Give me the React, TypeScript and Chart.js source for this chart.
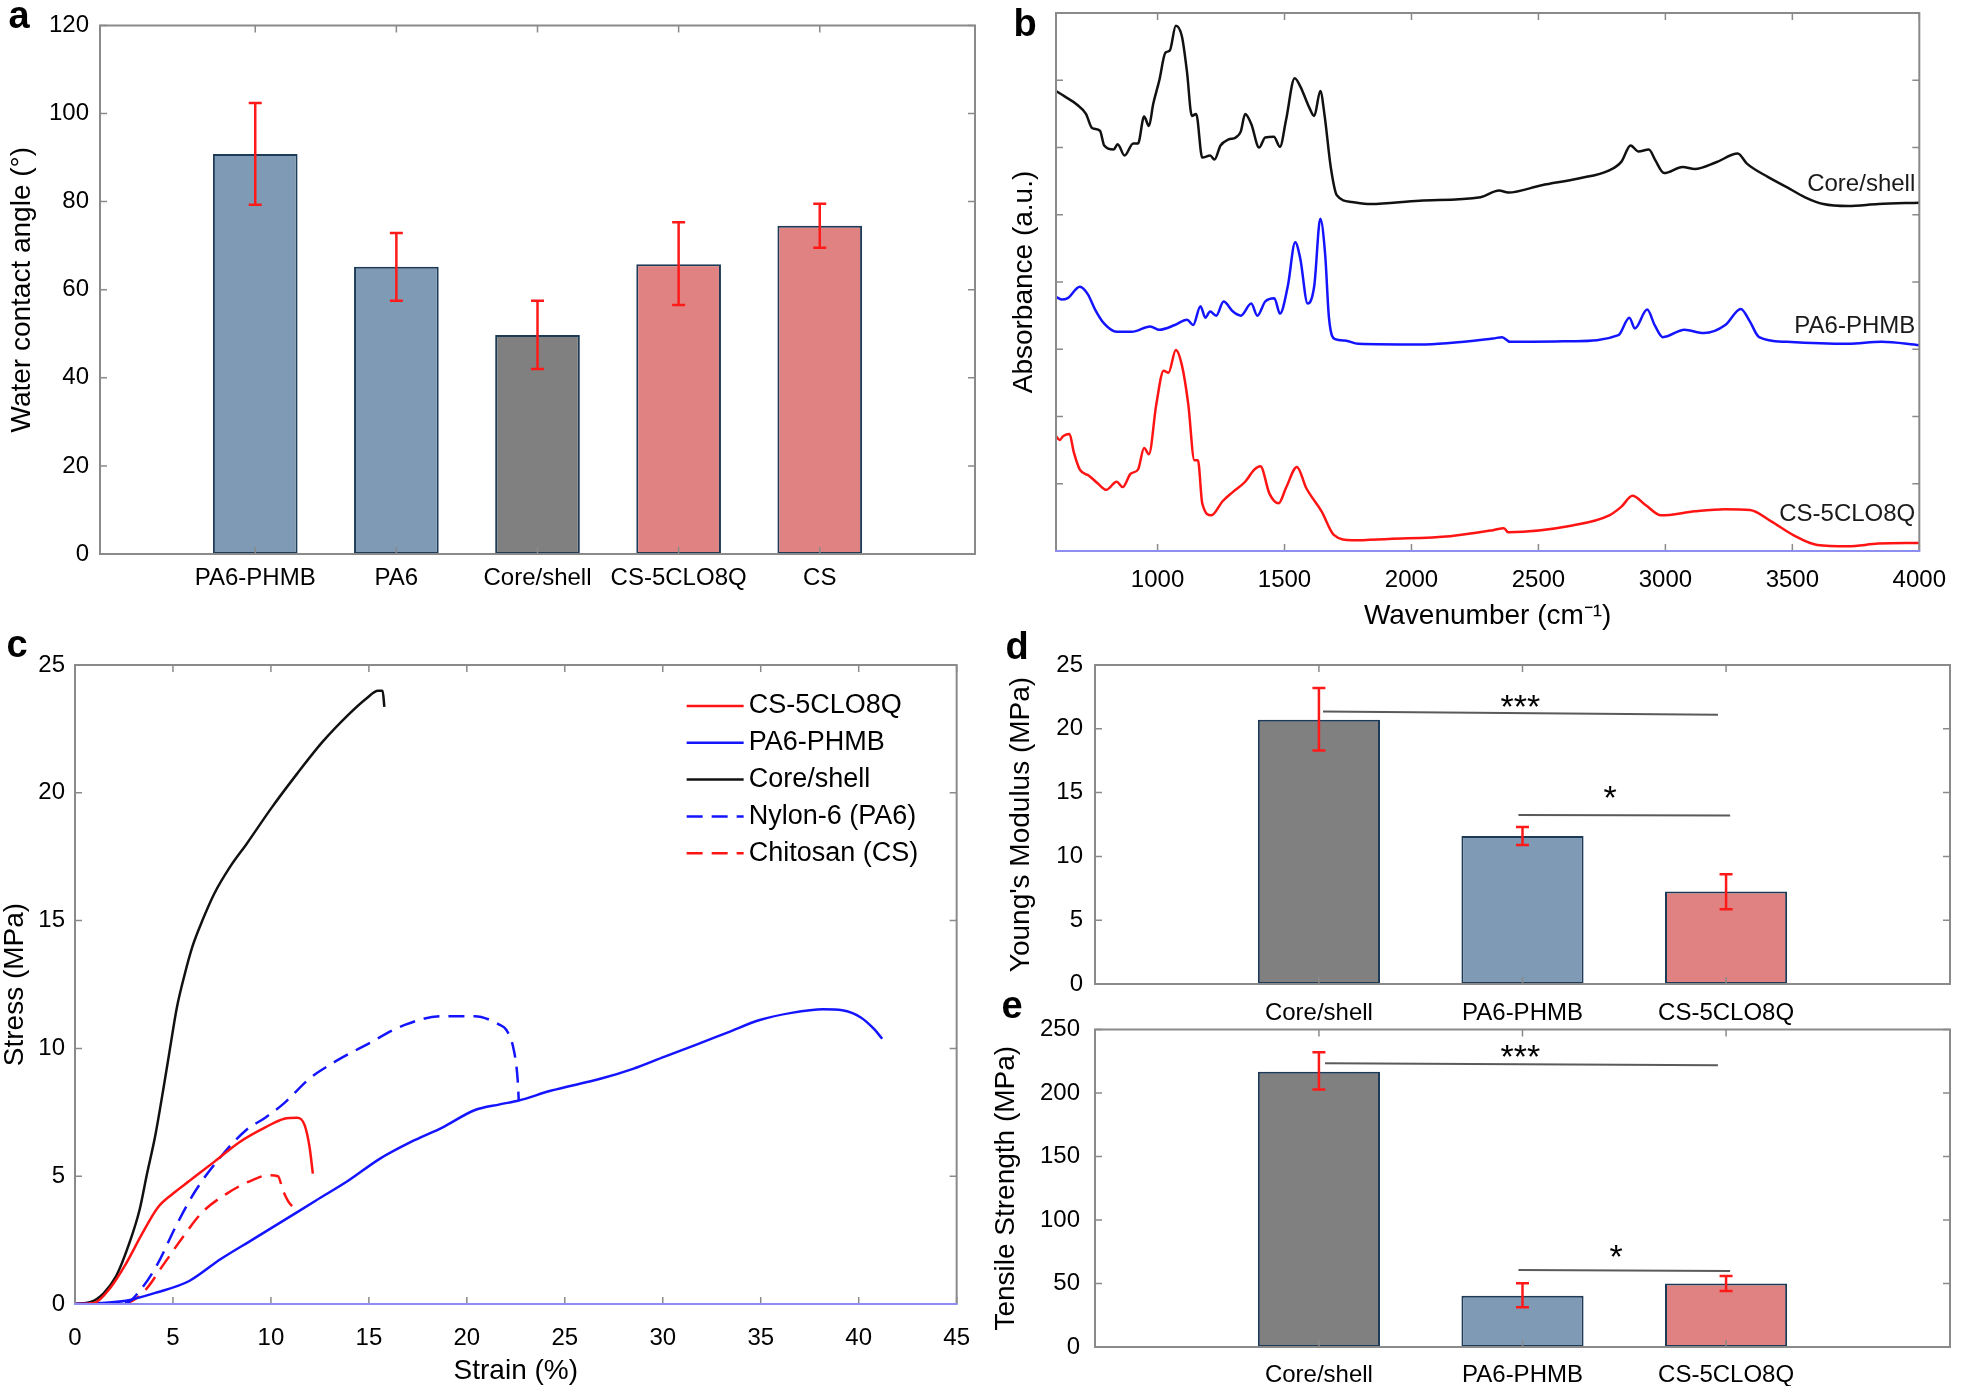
import React, { useEffect, useRef } from 'react';
import { Chart, registerables } from 'chart.js';

Chart.register(...registerables);

const FONT = '"Liberation Sans", Arial, Helvetica, sans-serif';
Chart.defaults.font.family = FONT;
Chart.defaults.color = '#000';

const AXIS_GRAY = '#8a8a8a';
const LAVENDER = '#8e8ef2';
const BAR_BLUE = '#7e9ab5';
const BAR_GRAY = '#808080';
const BAR_PINK = '#e08282';
const BAR_EDGE = '#1d3a57';

// ---------- Panel a: water contact angle ----------
const contactCategories = ['PA6-PHMB', 'PA6', 'Core/shell', 'CS-5CLO8Q', 'CS'];
const contactAngle = [90.8, 65.2, 49.7, 65.8, 74.5];
const contactErrLow = [79.3, 57.5, 42.0, 56.5, 69.5];
const contactErrHigh = [102.4, 72.9, 57.5, 75.3, 79.5];
const contactColors = [BAR_BLUE, BAR_BLUE, BAR_GRAY, BAR_PINK, BAR_PINK];
const contactYTicks = [0, 20, 40, 60, 80, 100, 120];

// ---------- Panel b: FTIR spectra ----------
const ftirXTicks = [1000, 1500, 2000, 2500, 3000, 3500, 4000];
const ftirYTicks = [0, 1, 2, 3, 4, 5, 6, 7, 8];
const coreShellWavenumber = [600, 634, 682, 718, 742, 773, 790, 827, 843, 870, 904, 923, 947, 966, 983, 1007, 1031, 1048, 1072, 1096, 1116, 1135, 1152, 1176, 1207, 1224, 1248, 1280, 1308, 1328, 1345, 1369, 1400, 1424, 1458, 1482, 1506, 1540, 1562, 1598, 1617, 1641, 1658, 1682, 1706, 1766, 1839, 2032, 2272, 2345, 2381, 2513, 2658, 2779, 2827, 2863, 2894, 2935, 2959, 2995, 3068, 3116, 3200, 3285, 3321, 3405, 3478, 3550, 3622, 3719, 3839, 4000];
const coreShellAbsorbance = [6.84, 6.76, 6.64, 6.5, 6.29, 6.25, 6.03, 5.97, 6.05, 5.88, 6.06, 6.06, 6.46, 6.32, 6.65, 7.0, 7.41, 7.44, 7.81, 7.65, 7.12, 6.47, 6.5, 5.85, 5.88, 5.82, 6.03, 6.12, 6.15, 6.24, 6.5, 6.35, 6.0, 6.15, 6.16, 6.01, 6.41, 7.03, 6.91, 6.59, 6.47, 6.84, 6.47, 5.71, 5.29, 5.19, 5.16, 5.21, 5.26, 5.36, 5.33, 5.44, 5.54, 5.66, 5.79, 6.03, 5.94, 5.97, 5.82, 5.62, 5.71, 5.68, 5.78, 5.91, 5.76, 5.56, 5.41, 5.26, 5.16, 5.13, 5.16, 5.18];
const pa6PhmbWavenumber = [600, 622, 646, 694, 725, 754, 790, 839, 899, 971, 1007, 1068, 1116, 1140, 1169, 1188, 1207, 1231, 1260, 1297, 1328, 1369, 1393, 1424, 1460, 1482, 1513, 1542, 1562, 1591, 1617, 1641, 1660, 1675, 1699, 1737, 1790, 2032, 2321, 2357, 2388, 2634, 2815, 2858, 2880, 2928, 2959, 2990, 3075, 3152, 3236, 3297, 3333, 3369, 3478, 3719, 3851, 4000];
const pa6PhmbAbsorbance = [3.78, 3.74, 3.76, 3.93, 3.82, 3.59, 3.38, 3.26, 3.26, 3.34, 3.29, 3.36, 3.44, 3.36, 3.64, 3.47, 3.56, 3.5, 3.71, 3.56, 3.5, 3.68, 3.5, 3.71, 3.76, 3.53, 3.94, 4.59, 4.35, 3.68, 3.94, 4.94, 4.41, 3.47, 3.15, 3.13, 3.08, 3.07, 3.16, 3.18, 3.11, 3.12, 3.21, 3.47, 3.31, 3.59, 3.35, 3.18, 3.29, 3.24, 3.36, 3.6, 3.41, 3.18, 3.11, 3.08, 3.11, 3.06];
const csLo8qWavenumber = [600, 614, 629, 653, 670, 694, 730, 766, 798, 839, 863, 894, 923, 947, 966, 995, 1024, 1043, 1072, 1096, 1121, 1145, 1159, 1176, 1212, 1256, 1297, 1345, 1381, 1405, 1441, 1477, 1506, 1549, 1585, 1646, 1694, 1766, 1911, 2152, 2321, 2364, 2381, 2634, 2779, 2827, 2870, 2923, 2983, 3116, 3236, 3333, 3417, 3502, 3598, 3719, 3839, 4000];
const csLo8qAbsorbance = [1.71, 1.65, 1.71, 1.74, 1.47, 1.21, 1.12, 1.0, 0.91, 1.03, 0.95, 1.15, 1.21, 1.53, 1.44, 2.18, 2.68, 2.65, 2.99, 2.76, 2.18, 1.35, 1.35, 0.71, 0.53, 0.74, 0.88, 1.03, 1.21, 1.26, 0.85, 0.71, 0.94, 1.25, 0.94, 0.59, 0.24, 0.16, 0.18, 0.22, 0.31, 0.34, 0.28, 0.38, 0.53, 0.66, 0.82, 0.68, 0.53, 0.59, 0.62, 0.61, 0.44, 0.24, 0.09, 0.07, 0.11, 0.12];
const spectrumLabels = ['Core/shell', 'PA6-PHMB', 'CS-5CLO8Q'];
const spectrumLabelX = [3984, 3984, 3984];
const spectrumLabelY = [5.45, 3.34, 0.54];

// ---------- Panel c: stress-strain ----------
const strainXTicks = [0, 5, 10, 15, 20, 25, 30, 35, 40, 45];
const stressYTicks = [0, 5, 10, 15, 20, 25];
const csLo8qStrain = [0, 0.97, 1.78, 2.59, 3.4, 4.21, 5.02, 5.83, 7.12, 8.41, 9.71, 10.68, 11.33, 11.72, 11.97, 12.14];
const csLo8qStress = [0, 0.04, 0.61, 1.56, 2.71, 3.76, 4.33, 4.81, 5.57, 6.34, 6.91, 7.25, 7.29, 7.0, 6.15, 5.1];
const pa6PhmbStrain = [0, 2.59, 4.21, 5.83, 7.44, 9.06, 10.68, 12.3, 13.92, 15.53, 17.15, 18.77, 20.39, 21.68, 22.65, 24.27, 26.86, 28.48, 30.1, 31.72, 33.33, 34.95, 36.57, 38.19, 39.16, 40.13, 40.78, 41.2];
const pa6PhmbStress = [0, 0.13, 0.46, 0.9, 1.76, 2.52, 3.28, 4.05, 4.81, 5.67, 6.34, 6.91, 7.58, 7.81, 7.96, 8.34, 8.82, 9.2, 9.68, 10.15, 10.63, 11.11, 11.39, 11.53, 11.49, 11.2, 10.76, 10.38];
const coreShellStrain = [0, 0.8, 1.46, 2.1, 2.75, 3.3, 3.65, 4.1, 4.55, 4.85, 5.2, 5.6, 6.0, 6.5, 7.12, 7.93, 8.74, 10.03, 11.33, 12.62, 13.92, 14.89, 15.47, 15.7, 15.79];
const coreShellStress = [0, 0.08, 0.42, 1.09, 2.33, 3.7, 5.0, 6.6, 8.6, 10.0, 11.6, 12.9, 14.0, 15.0, 16.07, 17.12, 17.98, 19.41, 20.74, 21.98, 23.03, 23.7, 23.99, 23.99, 23.36];
const nylonStrain = [0, 2.59, 3.4, 4.21, 5.18, 6.15, 7.44, 8.74, 9.71, 10.68, 11.97, 13.27, 14.89, 16.83, 18.77, 20.39, 21.68, 22.01, 22.39, 22.59, 22.65];
const nylonStress = [0, 0.04, 0.61, 1.56, 3.09, 4.43, 5.76, 6.81, 7.29, 7.86, 8.82, 9.48, 10.15, 10.92, 11.26, 11.26, 10.92, 10.73, 9.96, 8.82, 7.96];
const chitosanStrain = [0, 2.59, 3.56, 4.53, 5.5, 6.47, 7.77, 9.06, 9.87, 10.36, 10.62, 10.94, 11.49];
const chitosanStress = [0, 0.04, 0.52, 1.56, 2.61, 3.57, 4.33, 4.85, 5.04, 5.0, 4.43, 3.95, 3.66];

// ---------- Panels d & e ----------
const mechCategories = ['Core/shell', 'PA6-PHMB', 'CS-5CLO8Q'];
const mechColors = [BAR_GRAY, BAR_BLUE, BAR_PINK];
const youngModulus = [20.7, 11.6, 7.25];
const youngErrLow = [18.3, 10.9, 5.85];
const youngErrHigh = [23.2, 12.3, 8.6];
const youngYTicks = [0, 5, 10, 15, 20, 25];
const youngSigX1 = [1.02, 1.98];
const youngSigY1 = [21.35, 13.25];
const youngSigX2 = [2.96, 3.02];
const youngSigY2 = [21.1, 13.2];
const youngSigText = ['***', '*'];
const youngSigTextX = [1.99, 2.43];
const youngSigTextY = [22.4, 15.2];
const tensileStrength = [216.7, 40.3, 49.9];
const tensileErrLow = [202.6, 31.3, 44.0];
const tensileErrHigh = [232.0, 50.1, 55.8];
const tensileYTicks = [0, 50, 100, 150, 200, 250];
const tensileSigX1 = [1.03, 1.98];
const tensileSigY1 = [223.4, 60.6];
const tensileSigX2 = [2.96, 3.02];
const tensileSigY2 = [221.8, 59.9];
const tensileSigText = ['***', '*'];
const tensileSigTextX = [1.99, 2.46];
const tensileSigTextY = [235, 77.5];

// ---------- helpers ----------
const TICK = 7;

const matlabAxes = (bottomColor: string = AXIS_GRAY) => ({
  id: 'matlabAxes',
  afterDatasetsDraw(chart: any) {
    const { ctx, chartArea } = chart;
    const { left, right, top, bottom } = chartArea;
    const xs = chart.scales.x;
    const ys = chart.scales.y;
    ctx.save();
    ctx.strokeStyle = AXIS_GRAY;
    ctx.lineWidth = 1.5;
    ctx.beginPath();
    xs.ticks.forEach((t: any) => {
      const p = xs.getPixelForValue(t.value);
      ctx.moveTo(p, bottom);
      ctx.lineTo(p, bottom - TICK);
      ctx.moveTo(p, top);
      ctx.lineTo(p, top + TICK);
    });
    ys.ticks.forEach((t: any) => {
      const p = ys.getPixelForValue(t.value);
      ctx.moveTo(left, p);
      ctx.lineTo(left + TICK, p);
      ctx.moveTo(right, p);
      ctx.lineTo(right - TICK, p);
    });
    ctx.stroke();
    ctx.lineWidth = 2;
    ctx.beginPath();
    ctx.moveTo(left, bottom);
    ctx.lineTo(left, top);
    ctx.lineTo(right, top);
    ctx.lineTo(right, bottom);
    ctx.stroke();
    ctx.strokeStyle = bottomColor;
    ctx.beginPath();
    ctx.moveTo(left - 1, bottom);
    ctx.lineTo(right + 1, bottom);
    ctx.stroke();
    ctx.restore();
  },
});

const errorBars = (low: number[], high: number[]) => ({
  id: 'errorBars',
  afterDatasetsDraw(chart: any) {
    const { ctx } = chart;
    const ys = chart.scales.y;
    const meta = chart.getDatasetMeta(0);
    ctx.save();
    ctx.strokeStyle = '#ff1a1a';
    ctx.lineWidth = 2.5;
    meta.data.forEach((bar: any, i: number) => {
      const x = bar.x;
      const yl = ys.getPixelForValue(low[i]);
      const yh = ys.getPixelForValue(high[i]);
      ctx.beginPath();
      ctx.moveTo(x, yl);
      ctx.lineTo(x, yh);
      ctx.moveTo(x - 6.5, yl);
      ctx.lineTo(x + 6.5, yl);
      ctx.moveTo(x - 6.5, yh);
      ctx.lineTo(x + 6.5, yh);
      ctx.stroke();
    });
    ctx.restore();
  },
});

const significance = (x1: number[], y1: number[], x2: number[], y2: number[], text: string[], tx: number[], ty: number[]) => ({
  id: 'significance',
  afterDatasetsDraw(chart: any) {
    const { ctx } = chart;
    const xs = chart.scales.x;
    const ys = chart.scales.y;
    ctx.save();
    ctx.strokeStyle = '#5a5a5a';
    ctx.lineWidth = 2;
    for (let i = 0; i < x1.length; i++) {
      ctx.beginPath();
      ctx.moveTo(xs.getPixelForValue(x1[i]), ys.getPixelForValue(y1[i]));
      ctx.lineTo(xs.getPixelForValue(x2[i]), ys.getPixelForValue(y2[i]));
      ctx.stroke();
      const size = 34;
      ctx.font = `${size}px ${FONT}`;
      ctx.fillStyle = '#000';
      ctx.textAlign = 'center';
      ctx.textBaseline = 'alphabetic';
      ctx.fillText(text[i], xs.getPixelForValue(tx[i]), ys.getPixelForValue(ty[i]) + 0.57 * size);
    }
    ctx.restore();
  },
});

const spectrumText = {
  id: 'spectrumText',
  afterDatasetsDraw(chart: any) {
    const { ctx } = chart;
    const xs = chart.scales.x;
    const ys = chart.scales.y;
    ctx.save();
    ctx.font = `24px ${FONT}`;
    ctx.fillStyle = '#1a1a1a';
    ctx.textAlign = 'right';
    ctx.textBaseline = 'middle';
    spectrumLabels.forEach((s, i) => {
      ctx.fillText(s, xs.getPixelForValue(spectrumLabelX[i]), ys.getPixelForValue(spectrumLabelY[i]));
    });
    ctx.restore();
  },
};

const strainLegend = {
  id: 'strainLegend',
  afterDraw(chart: any) {
    const { ctx, chartArea } = chart;
    const x0 = chartArea.right - 270;
    const x1 = chartArea.right - 213;
    const tx = chartArea.right - 208;
    ctx.save();
    ctx.font = `27px ${FONT}`;
    ctx.textAlign = 'left';
    ctx.textBaseline = 'middle';
    chart.data.datasets.forEach((ds: any, i: number) => {
      const y = chartArea.top + 41 + i * 36.8;
      ctx.strokeStyle = ds.borderColor;
      ctx.lineWidth = 2.5;
      ctx.setLineDash(ds.borderDash || []);
      ctx.beginPath();
      ctx.moveTo(x0, y);
      ctx.lineTo(x1, y);
      ctx.stroke();
      ctx.setLineDash([]);
      ctx.fillStyle = '#000';
      ctx.fillText(ds.label, tx, y);
    });
    ctx.restore();
  },
};

type AxisOpts = {
  min: number;
  max: number;
  ticks: number[];
  fit: 'width' | 'height';
  size: number;
  padding: number;
  showLabels?: boolean;
  label?: (v: number) => string;
  title?: string;
  titlePad?: number;
};

function makeAxis(o: AxisOpts) {
  return {
    type: 'linear',
    min: o.min,
    max: o.max,
    offset: false,
    grid: { display: false, offset: false, drawTicks: false, tickLength: 0 },
    border: { display: false },
    afterBuildTicks: (s: any) => {
      s.ticks = o.ticks.map((v) => ({ value: v }));
    },
    afterFit: (s: any) => {
      if (o.fit === 'width') s.width = o.size;
      else s.height = o.size;
    },
    ticks: {
      display: o.showLabels !== false,
      autoSkip: false,
      maxRotation: 0,
      minRotation: 0,
      padding: o.padding,
      color: '#000',
      font: { family: FONT, size: 24 },
      callback: o.label ? (v: any) => o.label!(Number(v)) : (v: any) => String(v),
    },
    title: o.title
      ? {
          display: true,
          text: o.title,
          color: '#000',
          font: { family: FONT, size: 28, lineHeight: 1 },
          padding: { top: o.titlePad || 0, bottom: o.titlePad || 0 },
        }
      : { display: false },
  };
}

function baseOptions(padTop: number, padRight: number) {
  return {
    responsive: false,
    animation: false,
    devicePixelRatio: 1,
    events: [],
    layout: { autoPadding: false, padding: { top: padTop, right: padRight, left: 0, bottom: 0 } },
    plugins: { legend: { display: false }, tooltip: { enabled: false } },
  };
}

function barDataset(values: number[], colors: string[]) {
  return {
    data: values.map((v, i) => ({ x: i + 1, y: v })),
    backgroundColor: colors,
    borderColor: BAR_EDGE,
    borderWidth: 2,
    borderSkipped: false,
    barPercentage: 0.6,
    categoryPercentage: 1,
  };
}

function lineDataset(label: string, xs: number[], ys: number[], color: string, dash: number[] = []) {
  return {
    label,
    data: xs.map((x, i) => ({ x, y: ys[i] })),
    borderColor: color,
    backgroundColor: color,
    borderWidth: 2.5,
    borderDash: dash,
    pointRadius: 0,
    cubicInterpolationMode: 'monotone',
    fill: false,
  };
}

// ---------- chart configs ----------
const configA = () => ({
  type: 'bar',
  data: { datasets: [barDataset(contactAngle, contactColors)] },
  options: {
    ...baseOptions(13, 15),
    scales: {
      x: makeAxis({ min: -0.1, max: 6.1, ticks: [1, 2, 3, 4, 5], fit: 'height', size: 66, padding: 10, label: (v) => contactCategories[v - 1] || '' }),
      y: makeAxis({ min: 0, max: 120, ticks: contactYTicks, fit: 'width', size: 100, padding: 11, title: 'Water contact angle (°)', titlePad: 8 }),
    },
  },
  plugins: [errorBars(contactErrLow, contactErrHigh), matlabAxes()],
});

const configB = () => ({
  type: 'line',
  data: {
    datasets: [
      lineDataset('Core/shell', coreShellWavenumber, coreShellAbsorbance, '#111111'),
      lineDataset('PA6-PHMB', pa6PhmbWavenumber, pa6PhmbAbsorbance, '#1414ff'),
      lineDataset('CS-5CLO8Q', csLo8qWavenumber, csLo8qAbsorbance, '#ff1414'),
    ],
  },
  options: {
    ...baseOptions(13, 31),
    scales: {
      x: makeAxis({ min: 600, max: 4000, ticks: ftirXTicks, fit: 'height', size: 89, padding: 15, title: 'Wavenumber (cm⁻¹)', titlePad: 10 }),
      y: makeAxis({ min: 0, max: 8, ticks: ftirYTicks, fit: 'width', size: 66, padding: 10, showLabels: false, title: 'Absorbance (a.u.)', titlePad: 20 }),
    },
  },
  plugins: [spectrumText, matlabAxes(LAVENDER)],
});

const configC = () => ({
  type: 'line',
  data: {
    datasets: [
      lineDataset('CS-5CLO8Q', csLo8qStrain, csLo8qStress, '#ff1414'),
      lineDataset('PA6-PHMB', pa6PhmbStrain, pa6PhmbStress, '#1414ff'),
      lineDataset('Core/shell', coreShellStrain, coreShellStress, '#111111'),
      lineDataset('Nylon-6 (PA6)', nylonStrain, nylonStress, '#1414ff', [16, 9]),
      lineDataset('Chitosan (CS)', chitosanStrain, chitosanStress, '#ff1414', [16, 9]),
    ],
  },
  options: {
    ...baseOptions(45, 33),
    scales: {
      x: makeAxis({ min: 0, max: 45, ticks: strainXTicks, fit: 'height', size: 82, padding: 20, title: 'Strain (%)', titlePad: 1 }),
      y: makeAxis({ min: 0, max: 25, ticks: stressYTicks, fit: 'width', size: 75, padding: 10, title: 'Stress (MPa)', titlePad: 1 }),
    },
  },
  plugins: [matlabAxes(LAVENDER), strainLegend],
});

const configD = () => ({
  type: 'bar',
  data: { datasets: [barDataset(youngModulus, mechColors)] },
  options: {
    ...baseOptions(45, 11),
    scales: {
      x: makeAxis({ min: -0.1, max: 4.1, ticks: [1, 2, 3], fit: 'height', size: 56, padding: 15, label: (v) => mechCategories[v - 1] || '' }),
      y: makeAxis({ min: 0, max: 25, ticks: youngYTicks, fit: 'width', size: 105, padding: 12, title: "Young's Modulus (MPa)", titlePad: 17 }),
    },
  },
  plugins: [
    errorBars(youngErrLow, youngErrHigh),
    significance(youngSigX1, youngSigY1, youngSigX2, youngSigY2, youngSigText, youngSigTextX, youngSigTextY),
    matlabAxes(),
  ],
});

const configE = () => ({
  type: 'bar',
  data: { datasets: [barDataset(tensileStrength, mechColors)] },
  options: {
    ...baseOptions(28, 11),
    scales: {
      x: makeAxis({ min: -0.1, max: 4.1, ticks: [1, 2, 3], fit: 'height', size: 39, padding: 14, label: (v) => mechCategories[v - 1] || '' }),
      y: makeAxis({ min: 0, max: 250, ticks: tensileYTicks, fit: 'width', size: 105, padding: 15, title: 'Tensile Strength (MPa)', titlePad: 2 }),
    },
  },
  plugins: [
    errorBars(tensileErrLow, tensileErrHigh),
    significance(tensileSigX1, tensileSigY1, tensileSigX2, tensileSigY2, tensileSigText, tensileSigTextX, tensileSigTextY),
    matlabAxes(),
  ],
});

type Box = { x: number; y: number; w: number; h: number };

function ChartPanel({ box, build }: { box: Box; build: () => any }) {
  const ref = useRef<HTMLCanvasElement | null>(null);
  useEffect(() => {
    if (!ref.current) return;
    const chart = new Chart(ref.current, build() as any);
    return () => chart.destroy();
  }, []);
  return (
    <canvas
      ref={ref}
      width={box.w}
      height={box.h}
      style={{ position: 'absolute', left: box.x, top: box.y, width: box.w, height: box.h }}
    />
  );
}

const panelLetters = [
  { t: 'a', cx: 19, top: -4 },
  { t: 'b', cx: 1025, top: 4 },
  { t: 'c', cx: 17, top: 625 },
  { t: 'd', cx: 1017, top: 627 },
  { t: 'e', cx: 1012, top: 986 },
];

export default function App() {
  return (
    <div
      style={{
        position: 'absolute',
        left: 0,
        top: 0,
        width: 1961,
        height: 1386,
        background: '#fff',
        overflow: 'hidden',
        fontFamily: FONT,
      }}
    >
      <ChartPanel box={{ x: 0, y: 0, w: 990, h: 620 }} build={configA} />
      <ChartPanel box={{ x: 990, y: 0, w: 971, h: 640 }} build={configB} />
      <ChartPanel box={{ x: 0, y: 620, w: 990, h: 766 }} build={configC} />
      <ChartPanel box={{ x: 990, y: 620, w: 971, h: 420 }} build={configD} />
      <ChartPanel box={{ x: 990, y: 1000, w: 971, h: 386 }} build={configE} />
      {panelLetters.map((l) => (
        <div
          key={l.t}
          style={{
            position: 'absolute',
            left: l.cx - 20,
            top: l.top,
            width: 40,
            textAlign: 'center',
            fontSize: 38,
            lineHeight: '38px',
            fontWeight: 'bold',
            fontFamily: FONT,
            color: '#000',
          }}
        >
          {l.t}
        </div>
      ))}
    </div>
  );
}
